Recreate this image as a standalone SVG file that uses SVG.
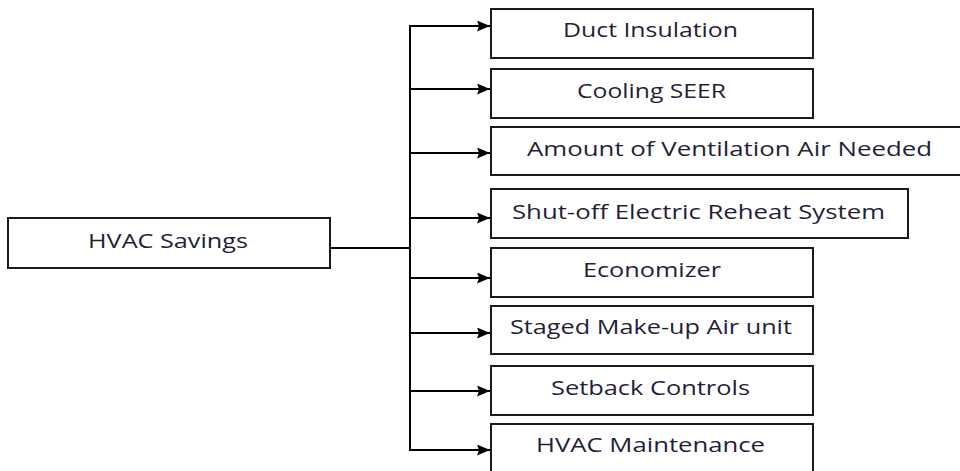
<svg xmlns="http://www.w3.org/2000/svg" width="960" height="471" viewBox="0 0 960 471">
<defs>
<marker id="arr" viewBox="0 0 13 11" refX="13" refY="5.5" markerWidth="13" markerHeight="11" markerUnits="userSpaceOnUse" orient="auto">
<path d="M0,0 L13,5.5 L0,11 L2,5.5 Z" fill="#000"/>
</marker>
<style>
.box{fill:#fff;stroke:#1a1a1a;stroke-width:2}
.t{font-family:"Open Sans","Liberation Sans",sans-serif;font-size:20px;fill:#1f1f3a;text-anchor:middle}
.c{stroke:#000;stroke-width:2;fill:none}
.a{stroke:#000;stroke-width:2;fill:none;marker-end:url(#arr)}
</style>
</defs>
<rect width="960" height="471" fill="#fff"/>
<g id="connectors">
<line class="c" x1="330" y1="248" x2="410" y2="248"/>
<line class="c" x1="410" y1="25" x2="410" y2="451"/>
<line class="a" x1="409" y1="26" x2="490" y2="26"/>
<line class="a" x1="409" y1="89" x2="490" y2="89"/>
<line class="a" x1="409" y1="153" x2="490" y2="153"/>
<line class="a" x1="409" y1="218" x2="490" y2="218"/>
<line class="a" x1="409" y1="278" x2="490" y2="278"/>
<line class="a" x1="409" y1="333" x2="490" y2="333"/>
<line class="a" x1="409" y1="391" x2="490" y2="391"/>
<line class="a" x1="409" y1="450" x2="490" y2="450"/>
</g>
<g id="hvac-savings"><rect class="box" x="8" y="218" width="322" height="50"/><text class="t" x="168" y="248" textLength="160" lengthAdjust="spacingAndGlyphs">HVAC Savings</text></g>
<g id="duct-insulation"><rect class="box" x="491" y="9" width="322" height="49"/><text class="t" x="650.5" y="37" textLength="175" lengthAdjust="spacingAndGlyphs">Duct Insulation</text></g>
<g id="cooling-seer"><rect class="box" x="491" y="69" width="322" height="49"/><text class="t" x="651.5" y="98" textLength="149" lengthAdjust="spacingAndGlyphs">Cooling SEER</text></g>
<g id="ventilation-air"><rect class="box" x="491" y="127" width="477" height="48"/><text class="t" x="729.5" y="156" textLength="405" lengthAdjust="spacingAndGlyphs">Amount of Ventilation Air Needed</text></g>
<g id="electric-reheat"><rect class="box" x="491" y="189" width="417" height="49"/><text class="t" x="698.5" y="219" textLength="373" lengthAdjust="spacingAndGlyphs">Shut-off Electric Reheat System</text></g>
<g id="economizer"><rect class="box" x="491" y="248" width="322" height="49"/><text class="t" x="652" y="277" textLength="138" lengthAdjust="spacingAndGlyphs">Economizer</text></g>
<g id="make-up-air"><rect class="box" x="491" y="306" width="322" height="48"/><text class="t" x="651" y="334" textLength="282" lengthAdjust="spacingAndGlyphs">Staged Make-up Air unit</text></g>
<g id="setback-controls"><rect class="box" x="491" y="366" width="322" height="49"/><text class="t" x="650.5" y="395" textLength="199" lengthAdjust="spacingAndGlyphs">Setback Controls</text></g>
<g id="hvac-maintenance"><rect class="box" x="491" y="424" width="322" height="60"/><text class="t" x="650.5" y="452" textLength="229" lengthAdjust="spacingAndGlyphs">HVAC Maintenance</text></g>
</svg>
